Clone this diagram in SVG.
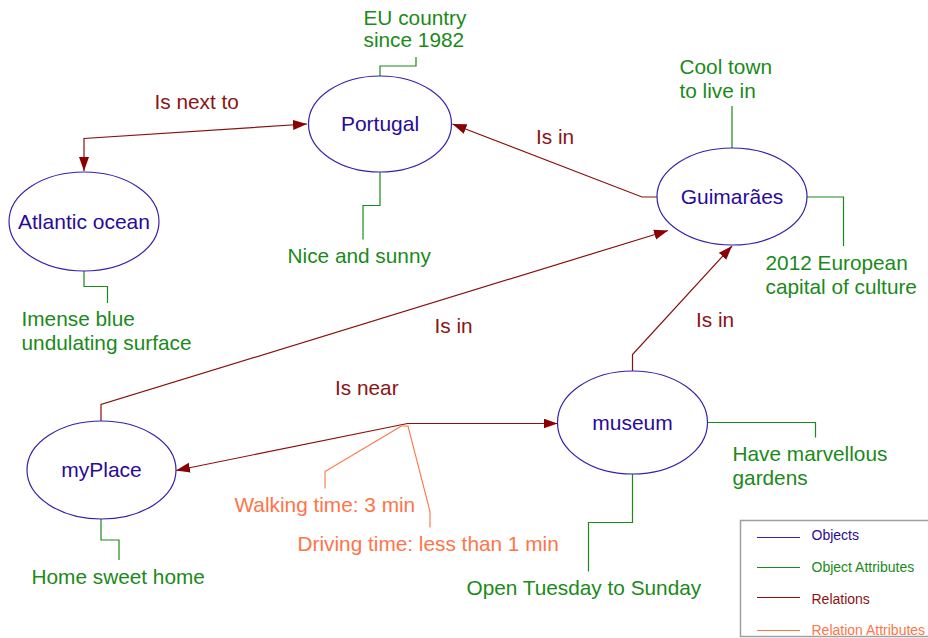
<svg xmlns="http://www.w3.org/2000/svg" width="928" height="638" viewBox="0 0 928 638">
  <style>
    text { font-family: "Liberation Sans", Arial, sans-serif; }
    .obj ellipse { fill: #ffffff; stroke: #3322aa; stroke-width: 1.2; }
    .obj text { fill: #2a0a9a; font-size: 21px; text-anchor: middle; }
    .attr { fill: #1a8a1a; font-size: 20.8px; }
    .attrline { fill: none; stroke: #1a8a1a; stroke-width: 1.2; }
    .rel { fill: none; stroke: #8b0f0f; stroke-width: 1.2; }
    .reltext { fill: #8b1414; font-size: 20.8px; }
    .rattr { fill: #ff7448; font-size: 20.8px; }
    .rattrline { fill: none; stroke: #ff7448; stroke-width: 1.1; }
    .legend text { font-size: 14px; }
  </style>
  <defs>
    <marker id="arrow" markerUnits="userSpaceOnUse" markerWidth="15" markerHeight="11" refX="14" refY="5" orient="auto-start-reverse">
      <path d="M0,0 L14,5 L0,10 z" fill="#8b0000"/>
    </marker>
  </defs>

  <rect width="928" height="638" fill="#ffffff"/>

  <!-- relations between objects -->
  <g id="connectors">
    <path class="rel" d="M84,171 V138.5 L307,124" marker-start="url(#arrow)" marker-end="url(#arrow)"/>
    <path class="rel" d="M657,197 H642 L452.5,124" marker-end="url(#arrow)"/>
    <path class="rel" d="M101,421 V404.5 L668,230.5" marker-end="url(#arrow)"/>
    <path class="rel" d="M632.5,371 V354.5 L732,246" marker-end="url(#arrow)"/>
    <path class="rel" d="M176,470.5 L407.5,423.5 H557.5" marker-start="url(#arrow)" marker-end="url(#arrow)"/>

    <!-- attribute leader lines -->
    <path class="attrline" d="M380,76 V66 H416 V57"/>
    <path class="attrline" d="M380,172 V205.5 H363 V239.5"/>
    <path class="attrline" d="M84,271 V286.5 H107.5 V303"/>
    <path class="attrline" d="M732,148 V106"/>
    <path class="attrline" d="M807,197 H843.5 V246"/>
    <path class="attrline" d="M101,519 V540 H119 V560"/>
    <path class="attrline" d="M707,422.5 H815.5 V437.5"/>
    <path class="attrline" d="M632.5,474 V522.5 H588.5 V571.5"/>

    <!-- relation attribute leader lines -->
    <path class="rattrline" d="M401.5,426 L325,471.5 V488.5"/>
    <path class="rattrline" d="M401.5,426 H408 L430,511.5 V527.5"/>
  </g>

  <!-- relation labels -->
  <text class="reltext" x="154.5" y="108.5">Is next to</text>
  <text class="reltext" x="536" y="144">Is in</text>
  <text class="reltext" x="434.5" y="332.5">Is in</text>
  <text class="reltext" x="696" y="326.5">Is in</text>
  <text class="reltext" x="335" y="395">Is near</text>

  <!-- relation attributes -->
  <text class="rattr" x="234.5" y="511.5">Walking time: 3 min</text>
  <text class="rattr" x="297.5" y="550.5">Driving time: less than 1 min</text>

  <!-- objects -->
  <g id="portugal" class="obj">
    <ellipse cx="380" cy="124" rx="71.5" ry="48"/>
    <text x="380" y="131">Portugal</text>
  </g>
  <g id="atlantic" class="obj">
    <ellipse cx="84" cy="221.5" rx="75" ry="49.5"/>
    <text x="84" y="229">Atlantic ocean</text>
  </g>
  <g id="guimaraes" class="obj">
    <ellipse cx="732" cy="196.5" rx="75" ry="48.5"/>
    <text x="732" y="203.5">Guimarães</text>
  </g>
  <g id="myplace" class="obj">
    <ellipse cx="101.5" cy="470" rx="74.5" ry="49"/>
    <text x="101.5" y="477">myPlace</text>
  </g>
  <g id="museum" class="obj">
    <ellipse cx="632.5" cy="422.5" rx="75" ry="51.5"/>
    <text x="632.5" y="430">museum</text>
  </g>

  <!-- object attributes -->
  <g id="attr-portugal-eu">
    <text class="attr" x="363.5" y="25">EU country</text>
    <text class="attr" x="363.5" y="47">since 1982</text>
  </g>
  <g id="attr-portugal-sunny">
    <text class="attr" x="287.5" y="263">Nice and sunny</text>
  </g>
  <g id="attr-atlantic">
    <text class="attr" x="21.5" y="326">Imense blue</text>
    <text class="attr" x="21.5" y="349.5">undulating surface</text>
  </g>
  <g id="attr-guimaraes-cool">
    <text class="attr" x="679.5" y="73.5">Cool town</text>
    <text class="attr" x="679.5" y="97.5">to live in</text>
  </g>
  <g id="attr-guimaraes-culture">
    <text class="attr" x="765.5" y="270">2012 European</text>
    <text class="attr" x="765.5" y="293.5">capital of culture</text>
  </g>
  <g id="attr-myplace">
    <text class="attr" x="31.5" y="583.5">Home sweet home</text>
  </g>
  <g id="attr-museum-gardens">
    <text class="attr" x="732.5" y="461">Have marvellous</text>
    <text class="attr" x="732.5" y="484.5">gardens</text>
  </g>
  <g id="attr-museum-open">
    <text class="attr" x="466.5" y="595">Open Tuesday to Sunday</text>
  </g>

  <!-- legend -->
  <g id="legend" class="legend">
    <rect x="740.5" y="520.5" width="195" height="116" fill="#ffffff" stroke="#a0a0a0" stroke-width="1.5"/>
    <line x1="757" y1="537.5" x2="800" y2="537.5" stroke="#3322aa" stroke-width="1"/>
    <text x="811.5" y="539.5" fill="#2a0a9a">Objects</text>
    <line x1="757" y1="567.5" x2="800" y2="567.5" stroke="#1a8a1a" stroke-width="1"/>
    <text x="811.5" y="571.5" fill="#1a8a1a">Object Attributes</text>
    <line x1="757" y1="597.5" x2="800" y2="597.5" stroke="#8b0f0f" stroke-width="1"/>
    <text x="811.5" y="603.5" fill="#8b1414">Relations</text>
    <line x1="757" y1="630.5" x2="800" y2="630.5" stroke="#ff7448" stroke-width="1"/>
    <text x="811.5" y="634.5" fill="#ff7448">Relation Attributes</text>
  </g>
</svg>
